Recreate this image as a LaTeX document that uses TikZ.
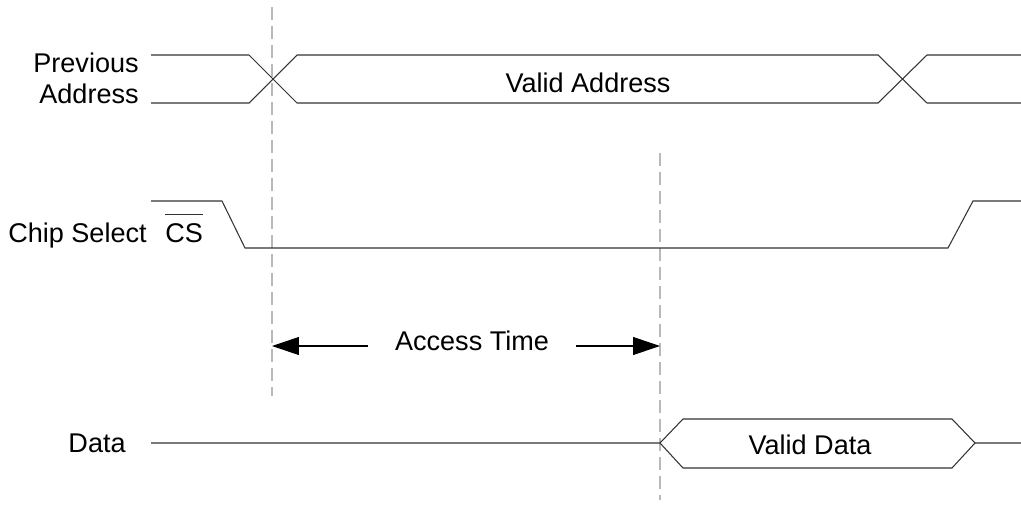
\documentclass[tikz,border=0pt]{standalone}
\usepackage{fontspec}
\setmainfont{Liberation Sans}
\usetikzlibrary{arrows.meta,positioning}

\begin{document}
\begin{tikzpicture}[
        x=0.02cm, y=-0.02cm,
        every node/.style={font=\fontsize{15.4}{17.6}\selectfont, inner sep=0pt},
        sig/.style={line width=0.6pt, draw=black!80},
        marker/.style={draw=gray!55, line width=0.8pt, dash pattern=on 0.26cm off 0.12cm},
        span/.style={-{Triangle[length=0.54cm, width=0.36cm]}, line width=0.6pt},
    ]
        \useasboundingbox (0,0) rectangle (1021,514);

        % --- Timing markers ---
        \draw[marker] (272,7) coordinate (m1top) -- (272,396) coordinate (m1bot);
        \draw[marker] (660,153) coordinate (m2top) -- (660,500) coordinate (m2bot);

        % --- Address bus ---
        \draw[sig] (151,55) -- (249,55) -- (297,103) -- (878,103) -- (927,55) -- (1021,55);
        \draw[sig] (151,103) -- (249,103) -- (297,55) -- (878,55) -- (927,103) -- (1021,103);
        \node[anchor=east, align=right] (prev) at (139,78) {Previous\\Address};
        \node[anchor=base] (vaddr) at (588,92) {Valid Address};

        % --- Chip select ---
        \draw[sig] (151,201) -- (222,201) -- (245,248) -- (948,248) -- (973,201) -- (1021,201);
        \node[anchor=base east] (chip) at (147,242) {Chip Select};
        \node[anchor=base west] (cs) at (165,242) {CS};
        \draw[sig] ([yshift=0.16cm]cs.north west) -- ([yshift=0.16cm]cs.north east);

        % --- Access time ---
        \coordinate (t0) at (272,346);
        \coordinate (t1) at (660,346);
        \node[anchor=base, inner xsep=0.53cm] (acc) at (472,350) {Access Time};
        \draw[span] (acc.west |- t0) -- (t0);
        \draw[span] (acc.east |- t1) -- (t1);

        % --- Data bus ---
        \draw[sig] (151,443) -- (660,443) -- (683,419) -- (952,419) -- (975,443) -- (1021,443);
        \draw[sig] (660,443) -- (683,468) -- (952,468) -- (975,443);
        \node[anchor=base east] (data) at (126,452) {Data};
        \node[anchor=base] (vdata) at (810,454) {Valid Data};
    \end{tikzpicture}
\end{document}
